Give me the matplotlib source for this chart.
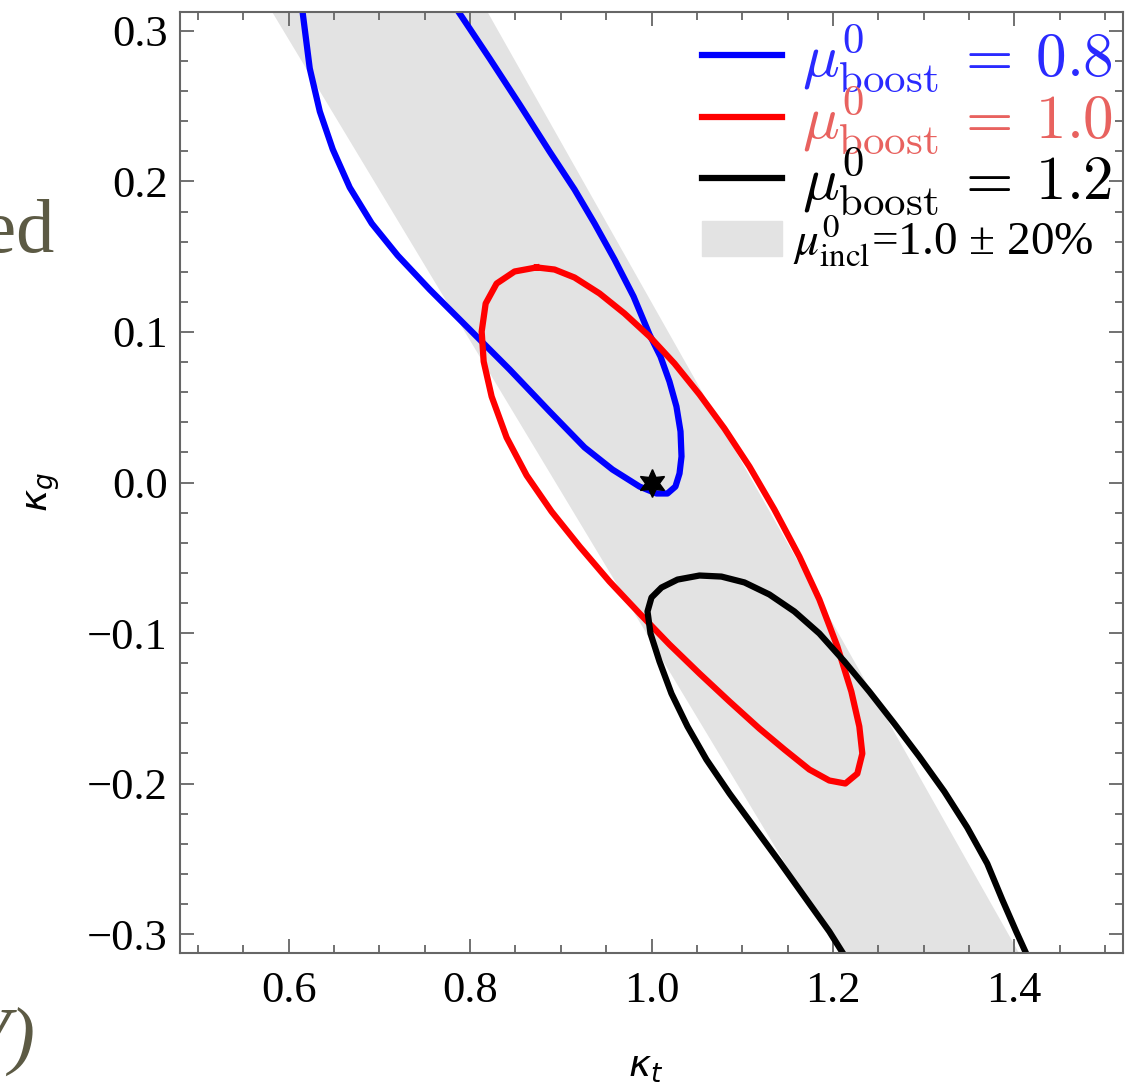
import matplotlib.pyplot as plt
from matplotlib.patches import Patch
from matplotlib.ticker import MultipleLocator, FuncFormatter

# 1-sigma contours in the (kappa_t, kappa_g) plane
blue_kt = [0.6143, 0.6154, 0.6231, 0.6342, 0.6485, 0.6672, 0.6915, 0.7201, 0.7554,
           0.7994, 0.8435, 0.8876, 0.9262, 0.9570, 0.9868, 1.0055, 1.0176, 1.0264,
           1.0309, 1.0331, 1.0320, 1.0275, 1.0198, 1.0099, 0.9978, 0.9802, 0.9592,
           0.9372, 0.9151, 0.8876, 0.8545, 0.8215, 0.7884, 0.7818]
blue_kg = [0.3169, 0.3116, 0.2751, 0.2465, 0.2213, 0.1960, 0.1721, 0.1508, 0.1282,
           0.1017, 0.0751, 0.0472, 0.0233, 0.0086, -0.0027, -0.0073, -0.0073, -0.0027,
           0.0060, 0.0173, 0.0339, 0.0505, 0.0671, 0.0837, 0.0983, 0.1236, 0.1482,
           0.1721, 0.1947, 0.2199, 0.2512, 0.2817, 0.3116, 0.3176]

red_kt = [0.8733, 0.8931, 0.9151, 0.9427, 0.9702, 0.9978, 1.0253, 1.0529, 1.0804,
          1.1080, 1.1355, 1.1631, 1.1851, 1.2050, 1.2204, 1.2292, 1.2325, 1.2270,
          1.2138, 1.1961, 1.1741, 1.1466, 1.1190, 1.0860, 1.0529, 1.0198, 0.9868,
          0.9537, 0.9207, 0.8898, 0.8623, 0.8402, 0.8237, 0.8149, 0.8127, 0.8171,
          0.8292, 0.8490, 0.8733]
red_kg = [0.1429, 0.1415, 0.1362, 0.1256, 0.1123, 0.0970, 0.0791, 0.0585, 0.0359,
          0.0106, -0.0179, -0.0492, -0.0777, -0.1090, -0.1389, -0.1621, -0.1801, -0.1934,
          -0.2000, -0.1980, -0.1907, -0.1774, -0.1635, -0.1455, -0.1269, -0.1076, -0.0870,
          -0.0658, -0.0425, -0.0193, 0.0047, 0.0299, 0.0571, 0.0804, 0.1003, 0.1189,
          0.1322, 0.1402, 0.1429]

black_kt = [1.2204, 1.1961, 1.1686, 1.1410, 1.1135, 1.0860, 1.0606, 1.0397, 1.0220,
            1.0088, 0.9989, 0.9956, 1.0000, 1.0110, 1.0287, 1.0529, 1.0771, 1.1025,
            1.1300, 1.1576, 1.1851, 1.2127, 1.2402, 1.2677, 1.2953, 1.3229, 1.3482,
            1.3703, 1.3868, 1.4022, 1.4198]
black_kg = [-0.3216, -0.2983, -0.2751, -0.2518, -0.2292, -0.2066, -0.1841, -0.1621, -0.1402,
            -0.1189, -0.1003, -0.0857, -0.0764, -0.0698, -0.0645, -0.0618, -0.0625, -0.0664,
            -0.0744, -0.0857, -0.1003, -0.1189, -0.1389, -0.1601, -0.1821, -0.2053, -0.2292,
            -0.2532, -0.2771, -0.2983, -0.3216]

# inclusive-rate band  mu_incl = 1.0 +- 20%
band_kg = [0.32, -0.32]
band_kt_lo = [0.574, 1.214]
band_kt_hi = [0.812, 1.412]

sm_kt, sm_kg = [1.0], [0.0]

boost_labels = [r'$\mu^0_{\mathrm{boost}}\:=\:0.8$', r'$\mu^0_{\mathrm{boost}}\:=\:1.0$',
                r'$\mu^0_{\mathrm{boost}}\:=\:1.2$']
boost_colors = ['#2a2aff', '#e8625f', 'black']
incl_label = r'$\mu^0_{\mathrm{incl}}$=1.0 ± 20%'

plt.rcParams['mathtext.fontset'] = 'cm'

fig = plt.figure(figsize=(11.41, 10.90), dpi=100)
ax = fig.add_axes([180 / 1141, 1 - 953 / 1090, 943 / 1141, 941 / 1090])

ax.fill_betweenx(band_kg, band_kt_lo, band_kt_hi, color='#e3e3e3', lw=0)
lb, = ax.plot(blue_kt, blue_kg, color='#0000ff', lw=4.5, solid_joinstyle='round')
lr, = ax.plot(red_kt, red_kg, color='#ff0000', lw=4.5, solid_joinstyle='round')
lk, = ax.plot(black_kt, black_kg, color='black', lw=4.5, solid_joinstyle='round')
ax.plot(sm_kt, sm_kg, marker=(6, 1, 0), ms=20, color='black', ls='none')

ax.set_xlim(0.48, 1.52)
ax.set_ylim(-0.3126, 0.3126)

ax.xaxis.set_major_locator(MultipleLocator(0.2))
ax.xaxis.set_minor_locator(MultipleLocator(0.05))
ax.yaxis.set_major_locator(MultipleLocator(0.1))
ax.yaxis.set_minor_locator(MultipleLocator(0.02))


def fmt(v, pos):
    if abs(v) < 1e-9:
        v = 0.0
    return f'{v:.1f}'.replace('-', '\u2212')


ax.xaxis.set_major_formatter(FuncFormatter(fmt))
ax.yaxis.set_major_formatter(FuncFormatter(fmt))
ax.tick_params(which='both', direction='in', top=True, right=True, color='#666666', width=1.3)
ax.tick_params(which='major', length=10, labelsize=32)
ax.tick_params(axis='x', which='major', pad=13)
ax.tick_params(axis='y', which='major', pad=9)
ax.tick_params(which='minor', length=6)
for t in ax.get_xticklabels() + ax.get_yticklabels():
    t.set_family('Liberation Serif')
for s in ax.spines.values():
    s.set_color('#666666')
    s.set_linewidth(1.5)

xl = ax.set_xlabel(r'$\boldsymbol{\kappa_t}$', fontsize=27)
yl = ax.set_ylabel(r'$\boldsymbol{\kappa_g}$', fontsize=27)
xl.set_math_fontfamily('dejavusans')
yl.set_math_fontfamily('dejavusans')
ax.xaxis.set_label_coords(0.494, -0.102)
ax.yaxis.set_label_coords(-0.125, 0.49)

leg = ax.legend([lb, lr, lk], boost_labels, loc='center left',
                bbox_to_anchor=(0.5536, (953 - 120) / 941), frameon=False, fontsize=44,
                labelspacing=-0.17, handlelength=1.31, handletextpad=0.33,
                borderpad=0.0, borderaxespad=0.0, labelcolor=boost_colors)
ax.add_artist(leg)

gray = Patch(color='#e3e3e3')
leg2 = ax.legend([gray], [incl_label], loc='center left',
                 bbox_to_anchor=(0.5536, (953 - 241) / 941), frameon=False, fontsize=34,
                 handlelength=1.7, handleheight=0.78, handletextpad=0.22,
                 borderpad=0.0, borderaxespad=0.0)
t = leg2.get_texts()[0]
t.set_family('Liberation Serif')
t.set_math_fontfamily('stix')

# cropped slide text around the chart
fig.text(54 / 1141, 1 - 252 / 1090, 'ted', ha='right', va='baseline', fontsize=55,
         family='Liberation Serif', color='#5c5a44')
fig.text(36 / 1141, 1 - 1060 / 1090, 'eV)', ha='right', va='baseline', fontsize=55,
         family='Liberation Serif', style='italic', color='#5c5a44')

fig.savefig('out.png', dpi=100)
